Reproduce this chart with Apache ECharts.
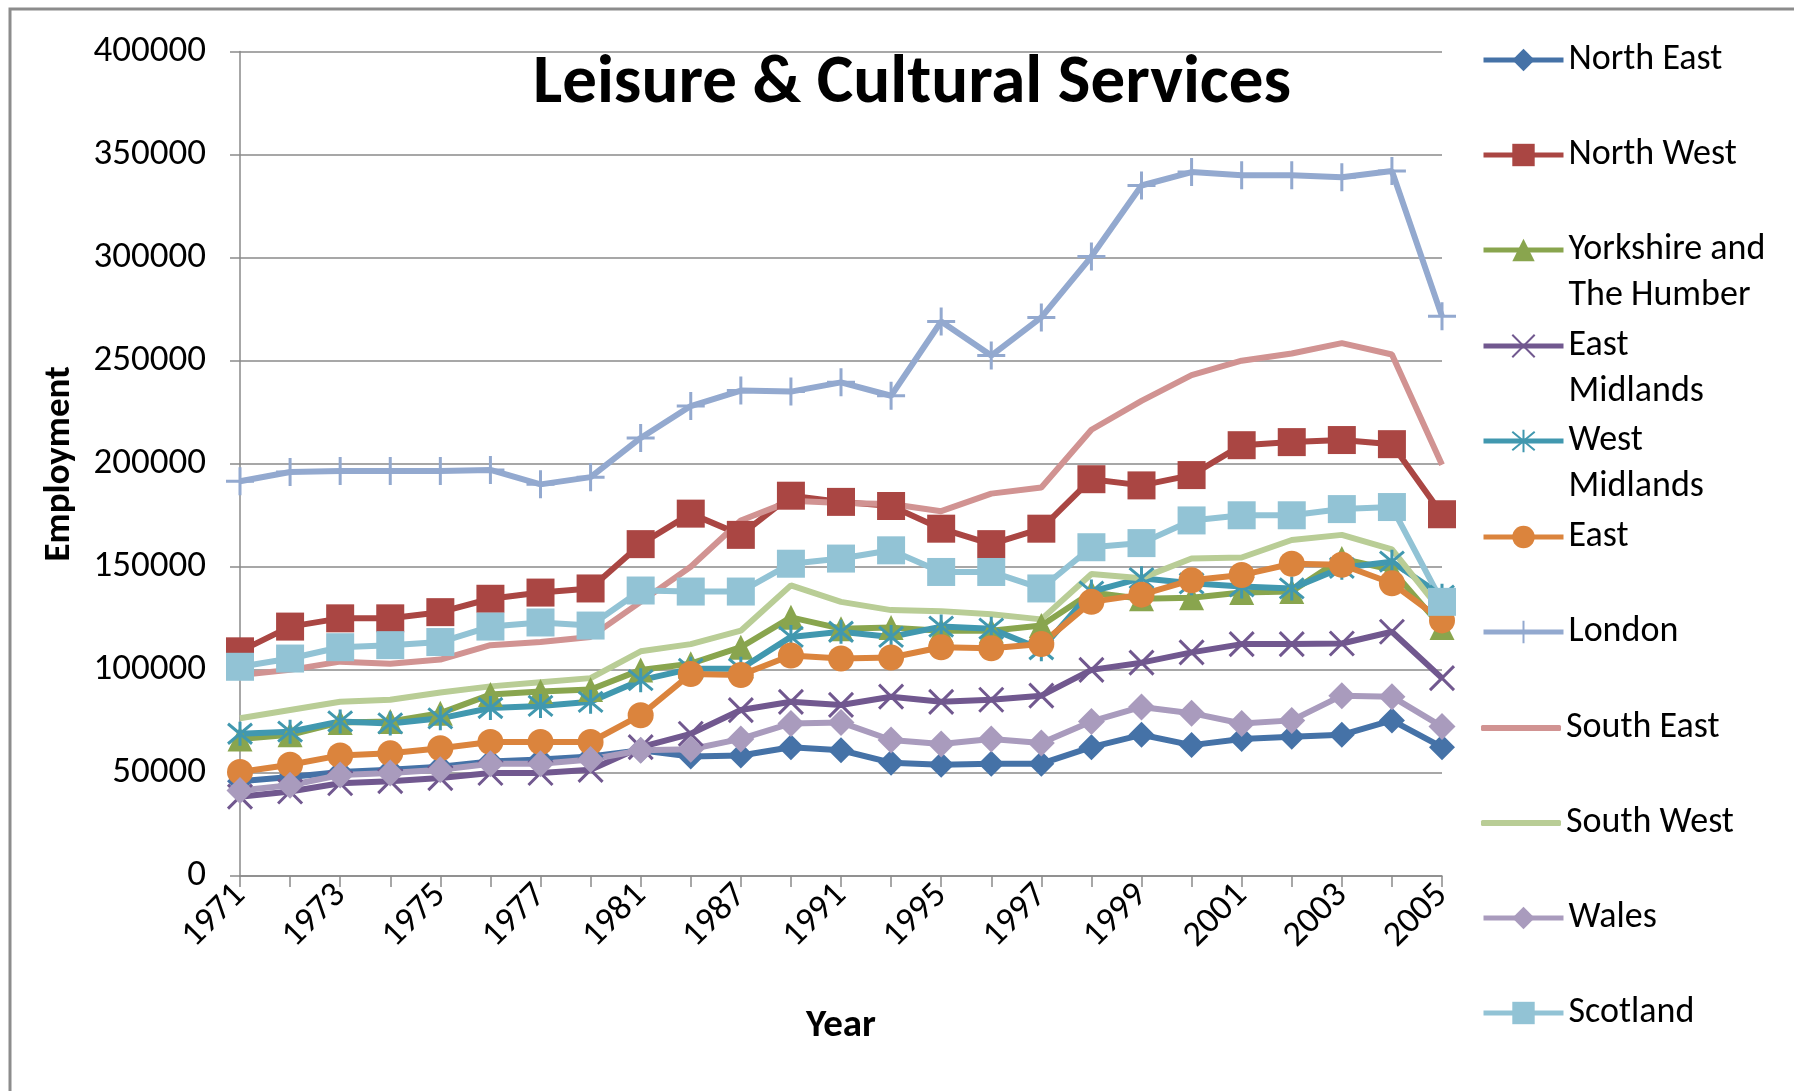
<!DOCTYPE html>
<html>
<head>
<meta charset="utf-8">
<script src="https://cdn.jsdelivr.net/npm/echarts@6/dist/echarts.min.js"></script>
<style>
  html, body { margin: 0; padding: 0; background: #fff; }
  #main { width: 1794px; height: 1091px; }
</style>
</head>
<body>
<div id="main"></div>
<script>
var years = ['1971', '1972', '1973', '1974', '1975', '1976', '1977', '1978', '1981', '1984', '1987', '1989', '1991',
             '1993', '1995', '1996', '1997', '1998', '1999', '2000', '2001', '2002', '2003', '2004', '2005'];

var northEast = [46000, 48000, 50500, 51500, 53000, 55500, 56500, 58000, 61000, 58000, 58500, 62500, 61000,
                 55000, 54000, 54500, 54500, 62500, 68500, 63500, 66500, 67500, 68500, 75500, 62500];
var northWest = [109000, 121000, 125000, 125000, 128000, 134500, 137500, 139500, 161000, 175800, 165500, 184500, 181500,
                 179500, 168500, 161000, 168500, 192500, 189500, 194500, 209000, 210500, 211500, 209500, 175500];
var yorkshire = [66500, 68500, 74500, 75000, 79000, 88000, 89500, 90500, 100000, 103000, 111000, 125500, 120000,
                 120500, 119000, 119000, 121500, 137500, 134500, 135000, 137500, 138000, 154000, 148500, 120500];
var eastMidlands = [38500, 41000, 45000, 46000, 47500, 50000, 50000, 51500, 62500, 69000, 80500, 84500, 83000,
                    87000, 84500, 85500, 87500, 100000, 103500, 108500, 112500, 112500, 112800, 118500, 96000];
var westMidlands = [69000, 70000, 75000, 74000, 76500, 81500, 82500, 84500, 95000, 100500, 100500, 116000, 118500,
                    116000, 121000, 120000, 110000, 138000, 144500, 142000, 140500, 139500, 149500, 152500, 136000];
var east = [50500, 54000, 58500, 59500, 62000, 65000, 65000, 65000, 78000, 98000, 97500, 107000, 105500,
            106000, 111000, 110500, 112500, 133000, 136500, 143500, 146000, 151500, 151000, 142000, 124000];
var london = [191500, 196000, 196500, 196500, 196500, 197000, 190000, 193500, 212500, 228000, 235500, 235000, 239500,
              233000, 269000, 252500, 271000, 300500, 335000, 341500, 340000, 340000, 339000, 342000, 271500];
var southEast = [97500, 100000, 104000, 103000, 105000, 112000, 113500, 116000, 133000, 150000, 172500, 182000, 181000,
                 180500, 177000, 185500, 188500, 216500, 230500, 243000, 250000, 253500, 258500, 253000, 199500];
var southWest = [76500, 80500, 84500, 85500, 89000, 92000, 94000, 96000, 109000, 112500, 119000, 141000, 133000,
                 129000, 128500, 127000, 124500, 146500, 144500, 154000, 154500, 163000, 165500, 158500, 128000];
var wales = [41500, 44000, 49000, 50000, 51500, 54500, 54500, 56500, 61000, 61500, 66500, 74000, 74500,
             66000, 64000, 66500, 64500, 75000, 82000, 79000, 74000, 75500, 87500, 87000, 72500];
var scotland = [101500, 105500, 111000, 112000, 113500, 121000, 123000, 121500, 138500, 138000, 138000, 151500, 154000,
                158000, 147500, 147500, 139500, 159500, 161500, 172500, 175000, 175000, 178000, 179000, 133000];

var regionNames = ['North East', 'North West', 'Yorkshire and The Humber', 'East Midlands', 'West Midlands',
                   'East', 'London', 'South East', 'South West', 'Wales', 'Scotland'];
// wrapped legend labels; the leading blank line keeps the first line level with the icon
var legendLabels = ['North East', 'North West', ' \nYorkshire and\nThe Humber', ' \nEast\nMidlands', ' \nWest\nMidlands',
                    'East', 'London', 'South East', 'South West', 'Wales', 'Scotland'];
var regionData = [northEast, northWest, yorkshire, eastMidlands, westMidlands, east, london, southEast, southWest, wales, scotland];

var colors = ['#4572A7', '#AA4643', '#89A54E', '#71588F', '#4198AF', '#DB843D', '#93A9CF', '#D19392', '#B9CD96', '#A99BBD', '#92C3D5'];

var xMark = 'path://M0,0L10,10M10,0L0,10';
var starMark = 'path://M0,0L10,10M10,0L0,10M5,-1L5,11';
var plusMark = 'path://M5,0L5,10M0,5L10,5';
var symbols = ['diamond', 'rect', 'triangle', xMark, starMark, 'circle', plusMark, 'none', 'none', 'diamond', 'rect'];
var symbolSizes = [26, 28, 25, 24, 24, 26, 28, 0, 0, 27, 28];
var strokeMarks = [false, false, false, true, true, false, true, false, false, false, false];

var font = 'Carlito, Lato, sans-serif';

var chart = echarts.init(document.getElementById('main'));

var series = regionNames.map(function (name, i) {
  return {
    name: name,
    type: 'line',
    data: regionData[i],
    symbol: symbols[i],
    symbolSize: symbolSizes[i],
    showSymbol: symbols[i] !== 'none',
    lineStyle: { color: colors[i], width: 6 },
    itemStyle: strokeMarks[i]
      ? { color: colors[i], borderColor: colors[i], borderWidth: 3 }
      : { color: colors[i], borderWidth: 0 },
    emphasis: { disabled: true }
  };
});

var legendY = [60, 155, 250, 346, 441, 537, 632, 728, 823, 918, 1013];
var lh = 46;
var legends = regionNames.map(function (name, i) {
  var lines = legendLabels[i].split('\n').length;
  var plain = symbols[i] === 'none';
  return {
    data: plain ? [{ name: name, icon: 'roundRect' }] : [name],
    orient: 'vertical',
    left: 1481,
    top: legendY[i] - lines * lh / 2,
    padding: 0,
    itemGap: 0,
    itemWidth: 80,
    itemHeight: plain ? 6 : 28,
    selectedMode: false,
    lineStyle: { width: 5 },
    formatter: function () { return legendLabels[i]; },
    textStyle: { fontFamily: font, fontSize: 36, color: '#000', lineHeight: lh }
  };
});

chart.setOption({
  animation: false,
  backgroundColor: '#fff',
  title: {
    text: 'Leisure & Cultural Services',
    left: 907,
    top: 45,
    textAlign: 'center',
    textStyle: { fontFamily: font, fontWeight: 'bold', fontSize: 69, color: '#000' }
  },
  graphic: [{
    type: 'rect',
    shape: { x: 10, y: 9, width: 1800, height: 1100 },
    style: { fill: 'none', stroke: '#8c8c8c', lineWidth: 3 },
    silent: true
  }],
  legend: legends,
  grid: { left: 240, right: 352, top: 51.5, bottom: 215, containLabel: false },
  xAxis: {
    type: 'category',
    data: years,
    boundaryGap: false,
    name: 'Year',
    nameLocation: 'middle',
    nameGap: 131,
    nameTextStyle: { fontFamily: font, fontWeight: 'bold', fontSize: 39, color: '#000' },
    axisLine: { lineStyle: { color: '#8a8a8a', width: 1.5 } },
    axisTick: { show: true, interval: 0, length: 11, lineStyle: { color: '#8a8a8a', width: 1.5 } },
    axisLabel: { interval: 1, rotate: 45, margin: 14, fontFamily: font, fontSize: 36, color: '#000' },
    splitLine: { show: false }
  },
  yAxis: {
    type: 'value',
    min: 0,
    max: 400000,
    interval: 50000,
    name: 'Employment',
    nameLocation: 'middle',
    nameGap: 162,
    nameTextStyle: { fontFamily: font, fontWeight: 'bold', fontSize: 37, color: '#000' },
    axisLine: { show: true, lineStyle: { color: '#8a8a8a', width: 1.5 } },
    axisTick: { show: true, length: 10, lineStyle: { color: '#8a8a8a', width: 1.5 } },
    axisLabel: {
      margin: 34, fontFamily: font, fontSize: 37, color: '#000',
      formatter: function (v) { return String(v); }
    },
    splitLine: { lineStyle: { color: '#8a8a8a', width: 1.5 } }
  },
  series: series
});
</script>
</body>
</html>
